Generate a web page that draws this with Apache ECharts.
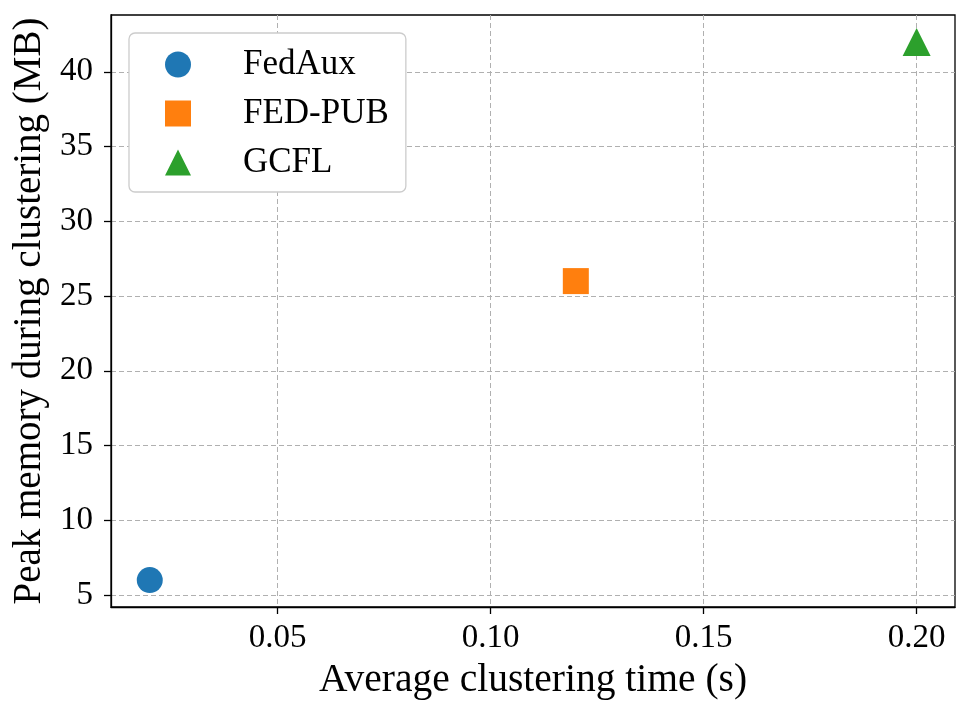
<!DOCTYPE html>
<html>
<head>
<meta charset="utf-8">
<script src="https://cdn.jsdelivr.net/npm/echarts@6/dist/echarts.min.js"></script>
<style>html,body{margin:0;padding:0;background:#fff}#c{width:971px;height:717px}</style>
</head>
<body>
<div id="c"></div>
<script>
const methods = ['FedAux', 'FED-PUB', 'GCFL'];
const times = [0.02, 0.12, 0.20];
const memory = [6, 26, 42];
const symbols = ['circle', 'rect', 'triangle'];
const colors = ['#1f77b4', '#ff7f0e', '#2ca02c'];
const xTicks = [0.05, 0.10, 0.15, 0.20];
const yTicks = [5, 10, 15, 20, 25, 30, 35, 40];

const font = '"Liberation Serif", "Times New Roman", serif';
const chart = echarts.init(document.getElementById('c'), null, {renderer: 'canvas'});
const gridLine = {show: true, lineStyle: {color: '#b0b0b0', type: [5, 3], width: 1}};
chart.setOption({
  animation: false,
  backgroundColor: '#fff',
  textStyle: {fontFamily: font},
  grid: {left: 111, right: 16, top: 15, bottom: 110, show: true, borderColor: '#000', borderWidth: 1.3, backgroundColor: 'transparent'},
  legend: {
    orient: 'vertical', left: 129, top: 33,
    itemWidth: 26, itemHeight: 26, itemGap: 14,
    padding: [14, 17, 12, 36],
    backgroundColor: '#fff', borderColor: '#cccccc', borderWidth: 1.3, borderRadius: 6,
    textStyle: {fontFamily: font, fontSize: 35, color: '#000', padding: [0, 0, 0, 47]},
    data: methods.map((m, i) => ({name: m, icon: symbols[i]}))
  },
  xAxis: {
    type: 'value', min: 0.0109, max: 0.2090,
    name: 'Average clustering time (s)', nameLocation: 'middle', nameGap: 54,
    nameTextStyle: {fontFamily: font, fontSize: 39.5, color: '#000'},
    axisLine: {show: true, onZero: false, lineStyle: {color: '#000', width: 1.3}},
    axisTick: {show: true, length: 7, lineStyle: {color: '#000', width: 1.3}, customValues: xTicks},
    axisLabel: {fontFamily: font, fontSize: 33, color: '#000', margin: 15, customValues: xTicks, formatter: v => v.toFixed(2)},
    splitLine: gridLine
  },
  yAxis: {
    type: 'value', min: 4.2, max: 43.8,
    name: 'Peak memory during clustering (MB)', nameLocation: 'middle', nameGap: 57,
    nameTextStyle: {fontFamily: font, fontSize: 39, color: '#000'},
    axisLine: {show: true, onZero: false, lineStyle: {color: '#000', width: 1.3}},
    axisTick: {show: true, length: 7, lineStyle: {color: '#000', width: 1.3}, customValues: yTicks},
    axisLabel: {fontFamily: font, fontSize: 33, color: '#000', margin: 18, customValues: yTicks},
    splitLine: gridLine
  },
  series: methods.map((m, i) => ({
    name: m, type: 'scatter', symbol: symbols[i], symbolSize: symbols[i] === 'triangle' ? 28 : 26,
    itemStyle: {color: colors[i], opacity: 1},
    data: [[times[i], memory[i]]], z: 5
  }))
});
</script>
</body>
</html>
